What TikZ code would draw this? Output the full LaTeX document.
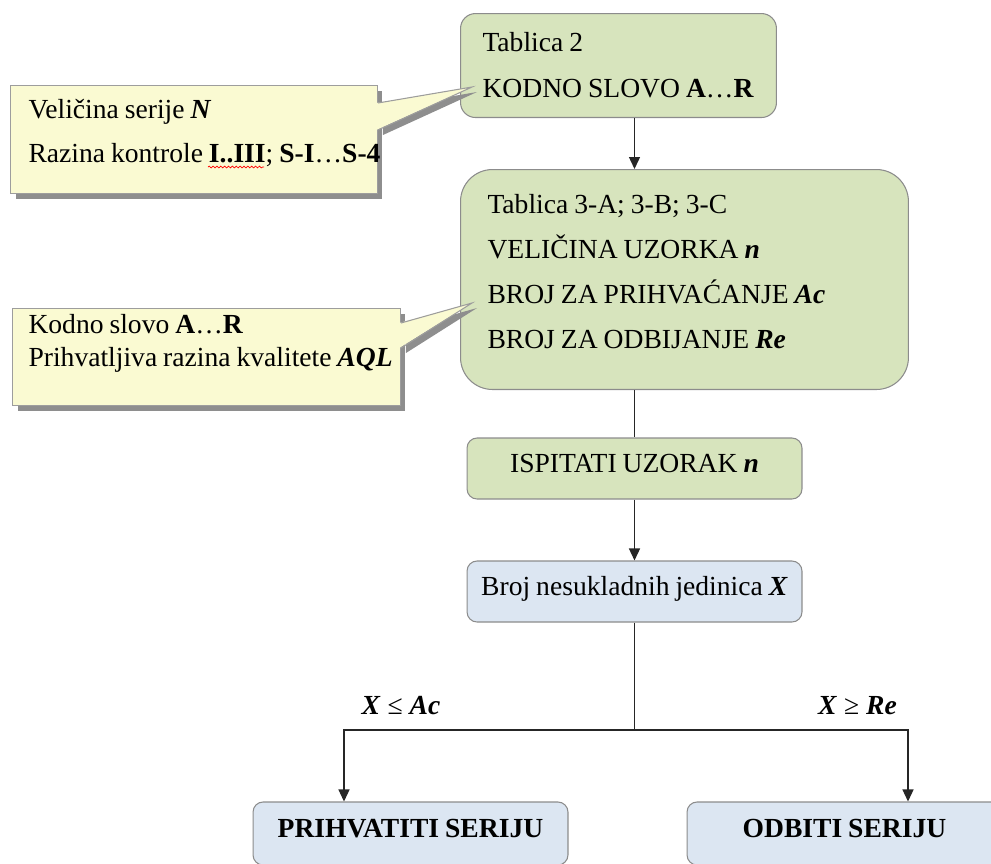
\documentclass[tikz,border=0pt]{standalone}
\usepackage{fontspec}
\setmainfont{Liberation Serif}
\usetikzlibrary{arrows.meta}
\usetikzlibrary{calc}
\usetikzlibrary{shadows}
\usetikzlibrary{decorations.pathmorphing}
\definecolor{greenfill}{HTML}{D7E4BD}
\definecolor{bluefill}{HTML}{DCE6F2}
\definecolor{callfill}{HTML}{FAFAD2}
\definecolor{boxline}{HTML}{8C8C8C}
\definecolor{shadowgray}{HTML}{8E8E8E}
\newcommand{\bi}[1]{\textbf{\textit{#1}}}
\tikzset{
    box/.style={draw=boxline, line width=0.6pt, inner sep=0pt, font=\fontsize{15.7}{25.6}\selectfont,
        execute at begin node={\spaceskip=3.4pt plus 1pt minus 0.5pt\xspaceskip=\spaceskip}},
    greenbox/.style={box, fill=greenfill},
    bluebox/.style={box, fill=bluefill},
    oneline/.style={text height=0.7em, text depth=0.3em},
    callout/.style={box, draw=boxline!85, fill=callfill, align=left, anchor=north west,
        drop shadow={shadow xshift=0.1cm, shadow yshift=-0.1cm, fill=shadowgray, opacity=1}},
    conn/.style={draw=black!85, line width=0.75pt},
    arrow/.style={conn, -{Triangle[length=2.4mm,width=2.2mm]}},
    cond/.style={anchor=base, font=\fontsize{15.7}{18}\selectfont},
    spell/.style={red, line width=0.4pt, decorate, decoration={snake, amplitude=0.5pt, segment length=2.2pt}},
}
\begin{document}
\begin{tikzpicture}[x=0.02cm, y=-0.02cm]
\useasboundingbox (0,0) rectangle (991,863);
\clip (0,0) rectangle (991,863);
\node[greenbox, rounded corners=0.3cm, anchor=north west, minimum width=6.32cm, minimum height=2.08cm, text width=5.44cm, align=left, font=\fontsize{15.7}{26.2}\selectfont] (tab2) at (460,13) {\mbox{Tablica 2}\\\mbox{KODNO SLOVO \textbf{A}\ldots\textbf{R}}};
\node[greenbox, rounded corners=0.64cm, anchor=north west, minimum width=8.96cm, minimum height=4.4cm, text width=7.88cm, align=left] (tab3) at (460,169) {\mbox{Tablica 3-A; 3-B; 3-C}\\\mbox{VELIČINA UZORKA \bi{n}}\\\mbox{BROJ ZA PRIHVAĆANJE \bi{Ac}}\\\mbox{BROJ ZA ODBIJANJE \bi{Re}}\rule[-9.7pt]{0pt}{0pt}};
\node[greenbox, oneline, rounded corners=0.2cm, minimum width=6.7cm, minimum height=1.22cm] (test) at (634.5,468.5) {ISPITATI UZORAK \bi{n}};
\node[bluebox, oneline, rounded corners=0.2cm, minimum width=6.7cm, minimum height=1.22cm] (count) at (634.5,591.5) {Broj nesukladnih jedinica \bi{X}};
\node[bluebox, oneline, rounded corners=0.2cm, minimum width=6.3cm, minimum height=1.26cm] (accept) at (410.5,833.5) {\textbf{PRIHVATITI SERIJU}};
\node[bluebox, oneline, rounded corners=0.2cm, minimum width=6.3cm, minimum height=1.26cm] (reject) at (844.5,833.5) {\textbf{ODBITI SERIJU}};
\draw[arrow] (tab2.south -| test.north) -- (tab3.north -| test.north);
\draw[conn] (tab3.south -| test.north) -- (test.north);
\draw[arrow] (test) -- (count);
\coordinate (split) at (634.5,730);
\coordinate (left) at (344,730);
\coordinate (right) at (908,730);
\draw[conn] (count) -- (split);
\draw[arrow] (split) -- (left) -- (left |- accept.north);
\draw[arrow] (split) -- (right) -- (right |- reject.north);
\node[cond] (le) at (401,714) {\bi{X} ≤ \bi{Ac}};
\node[cond] (ge) at (857.5,714) {\bi{X} ≥ \bi{Re}};
\node[callout, minimum width=7.34cm, minimum height=2.16cm, text width=6.62cm] (size) at (10,85) {\mbox{Veličina serije \bi{N}}\\\mbox{Razina kontrole \textbf{I..III}; \textbf{S-I}\ldots\textbf{S-4}}\rule[-9.8pt]{0pt}{0pt}};
\draw[spell] ($(size.north west)+(198,82)$) -- ($(size.north west)+(254,82)$);
\coordinate (tip1) at (472,87);
\coordinate (a1) at ($(size.north east)+(0,18)$);
\coordinate (b1) at ($(size.north east)+(0,45)$);
\fill[shadowgray] ([shift={(5,5)}]a1) -- ([shift={(5,5)}]tip1) -- ([shift={(5,5)}]b1) -- cycle;
\fill[callfill] ([xshift=-1pt]a1) -- (tip1) -- ([xshift=-1pt]b1) -- cycle;
\draw[boxline!85, line width=0.6pt] (a1) -- (tip1) -- (b1);
\node[callout, font=\fontsize{15.7}{18.8}\selectfont, minimum width=7.76cm, minimum height=1.94cm, text width=7.12cm] (level) at (12,308) {\mbox{Kodno slovo \textbf{A}\ldots\textbf{R}}\\\mbox{Prihvatljiva razina kvalitete \bi{AQL}}\rule[-19.3pt]{0pt}{0pt}};
\coordinate (tip2) at (472,303);
\coordinate (a2) at ($(level.north east)+(0,15)$);
\coordinate (b2) at ($(level.north east)+(0,40)$);
\fill[shadowgray] ([shift={(5,5)}]a2) -- ([shift={(5,5)}]tip2) -- ([shift={(5,5)}]b2) -- cycle;
\fill[callfill] ([xshift=-1pt]a2) -- (tip2) -- ([xshift=-1pt]b2) -- cycle;
\draw[boxline!85, line width=0.6pt] (a2) -- (tip2) -- (b2);
\end{tikzpicture}
\end{document}
